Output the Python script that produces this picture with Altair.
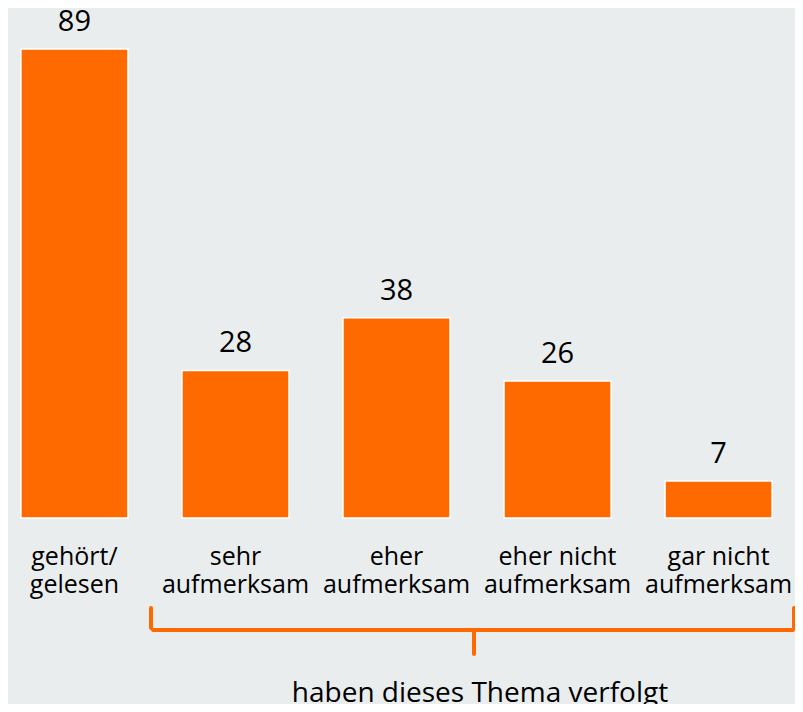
import altair as alt
import pandas as pd

categories = ["gehört/|gelesen", "sehr|aufmerksam", "eher|aufmerksam",
              "eher nicht|aufmerksam", "gar nicht|aufmerksam"]
values = [89, 28, 38, 26, 7]
footnote = ["haben dieses Thema verfolgt"]

ORANGE = "#ff6a00"
BG = "#e9edee"
FONT = "Open Sans"

df = pd.DataFrame({"cat": categories, "val": values})
foot_df = pd.DataFrame({"t": footnote})

x_axis = alt.Axis(title=None, domain=False, ticks=False, tickSize=0,
                  labelPadding=26, labelAngle=0, labelFont=FONT,
                  labelFontSize=25, labelColor="black", labelLineHeight=28,
                  labelExpr="split(datum.label, '|')", labelLimit=0,
                  labelBaseline="top", labelOverlap=False)
x_enc = alt.X("cat:N", sort=categories,
              scale=alt.Scale(paddingInner=0.335, paddingOuter=0.08),
              axis=x_axis)
y_enc = alt.Y("val:Q", scale=alt.Scale(domain=[0, 96.8], nice=False), axis=None)

bars = alt.Chart(df).mark_bar(color=ORANGE, stroke="white", strokeWidth=1.5).encode(
    x=x_enc, y=y_enc)

value_labels = alt.Chart(df).mark_text(
    font=FONT, fontSize=29, dy=-18, baseline="alphabetic", color="black"
).encode(x=x_enc, y=y_enc, text="val:Q")


def seg(x1, x2, y1, y2):
    return alt.Chart(foot_df).mark_rule(
        color=ORANGE, strokeWidth=4, strokeCap="round"
    ).encode(x=alt.value(x1), x2=alt.value(x2), y=alt.value(y1), y2=alt.value(y2))


brace = [
    seg(145, 785, 622, 622),
    seg(143, 143, 600, 620),
    seg(786, 786, 600, 620),
    seg(466, 466, 622, 646),
]

foot = alt.Chart(foot_df).mark_text(
    font=FONT, fontSize=28, align="center", baseline="alphabetic", color="black"
).encode(x=alt.value(472), y=alt.value(694), text="t:N")

chart = alt.layer(bars, value_labels, *brace, foot).properties(
    width=777, height=510,
    padding={"left": 0, "top": 0, "right": 10, "bottom": 186},
    autosize=alt.AutoSizeParams(type="none"),
    background=BG,
).configure_view(stroke=None)

chart.save("out.html", embed_options={"renderer": "svg", "actions": False})
